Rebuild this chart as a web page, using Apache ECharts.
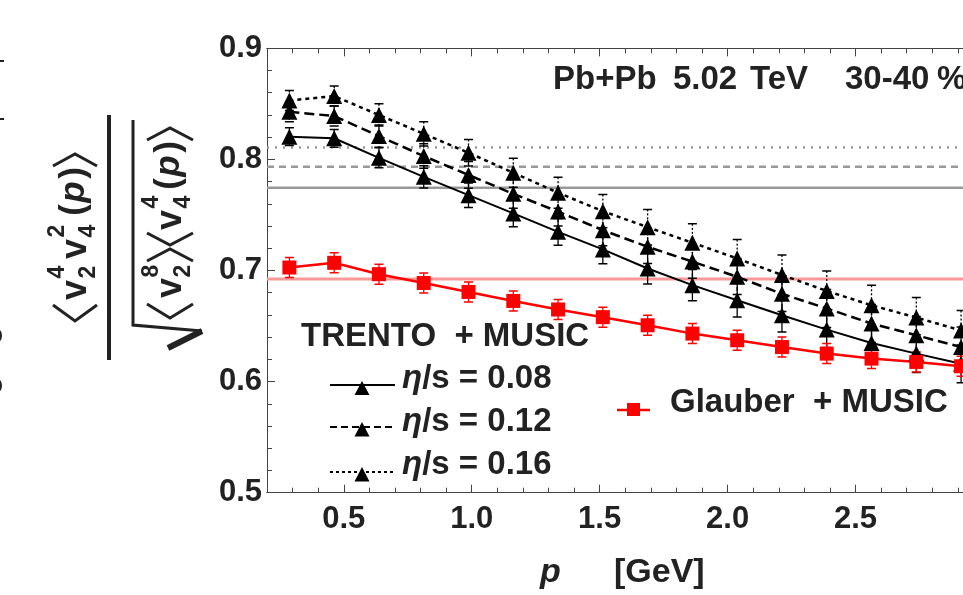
<!DOCTYPE html>
<html><head><meta charset="utf-8">
<script src="https://cdn.jsdelivr.net/npm/echarts@6/dist/echarts.min.js"></script>
<style>html,body{margin:0;padding:0;background:#fff}#c{width:963px;height:595px}</style>
</head><body><div id="c"></div>
<script>
// ---- data ----
const pT = [0.2875, 0.4625, 0.6375, 0.8125, 0.9875, 1.1625, 1.3375, 1.5125, 1.6875, 1.8625, 2.0375, 2.2125, 2.3875, 2.5625, 2.7375, 2.9125];
const eta008 = [0.8204, 0.8190, 0.8014, 0.7843, 0.7678, 0.7514, 0.7348, 0.7190, 0.7018, 0.6868, 0.6732, 0.6597, 0.6468, 0.6348, 0.6252, 0.6160];
const eta012 = [0.8429, 0.8390, 0.8210, 0.8030, 0.7860, 0.7690, 0.7530, 0.7363, 0.7213, 0.7080, 0.6943, 0.6790, 0.6658, 0.6523, 0.6417, 0.6311];
const eta016 = [0.8530, 0.8570, 0.8400, 0.8230, 0.8060, 0.7880, 0.7700, 0.7534, 0.7390, 0.7250, 0.7108, 0.6960, 0.6816, 0.6687, 0.6577, 0.6460];
const glauber = [0.7027, 0.7069, 0.6967, 0.6888, 0.6807, 0.6726, 0.6649, 0.6580, 0.6507, 0.6432, 0.6372, 0.6311, 0.6252, 0.6207, 0.6177, 0.6138];
const err008 = [0.008, 0.008, 0.009, 0.010, 0.011, 0.012, 0.012, 0.013, 0.014, 0.014, 0.015, 0.015, 0.016, 0.016, 0.017, 0.017];
const err012 = [0.009, 0.009, 0.010, 0.011, 0.012, 0.013, 0.013, 0.014, 0.015, 0.015, 0.016, 0.016, 0.017, 0.017, 0.017, 0.018];
const err016 = [0.009, 0.009, 0.010, 0.011, 0.012, 0.013, 0.014, 0.015, 0.016, 0.017, 0.017, 0.018, 0.018, 0.018, 0.018, 0.018];
const errGl = [0.009, 0.009, 0.009, 0.009, 0.009, 0.009, 0.009, 0.009, 0.009, 0.009, 0.009, 0.009, 0.009, 0.009, 0.009, 0.009];
const refTrento = [0.8108, 0.7933, 0.7744]; // eta/s 0.16, 0.12, 0.08
const refGlauber = 0.6924;
const xMajor = [0.5, 1.0, 1.5, 2.0, 2.5];
const xMinor = [0.3, 0.4, 0.6, 0.7, 0.8, 0.9, 1.1, 1.2, 1.3, 1.4, 1.6, 1.7, 1.8, 1.9, 2.1, 2.2, 2.3, 2.4, 2.6, 2.7, 2.8, 2.9];
const xLabels = ['0.5', '1.0', '1.5', '2.0', '2.5'];
const X_MIN = 0.2, X_MAX = 2.92, Y_MIN = 0.5, Y_MAX = 0.9;

// ---- chart ----
const FF = 'Liberation Sans, Arial, sans-serif';
const TXT = '#222';
const AX = '#444';
const chart = echarts.init(document.getElementById('c'));

function xAx(pos, vals, len, labels) {
  return {
    type: 'value', position: pos, min: X_MIN, max: X_MAX,
    axisLine: {show: true, onZero: false, lineStyle: {color: AX, width: 1}},
    axisTick: {show: true, inside: true, length: len, customValues: vals, lineStyle: {color: AX, width: 1}},
    axisLabel: labels ? {show: true, customValues: xMajor, formatter: v => xLabels[xMajor.indexOf(+(+v).toFixed(1))] || '', fontSize: 31, fontWeight: 'bold', fontFamily: FF, color: TXT, margin: 11} : {show: false},
    splitLine: {show: false}
  };
}
function pts(arr) { return pT.map((x, i) => [x, arr[i]]); }
function errData(arr, e) { return pT.map((x, i) => [x, arr[i], e[i]]); }
function lineS(arr, color, dash, symbol, size, width) {
  return {type: 'line', data: pts(arr), symbol: symbol, symbolSize: size, clip: true,
    lineStyle: {color: color, width: width, type: dash}, itemStyle: {color: color, borderWidth: 0},
    z: 5, animation: false, silent: true};
}
function errS(data, color, dash, z) {
  return {type: 'custom', data: data, clip: true, z: z, silent: true, animation: false,
    renderItem: function (params, api) {
      const x = api.value(0), y = api.value(1), e = api.value(2);
      const t = api.coord([x, y + e]), b = api.coord([x, y - e]);
      const cw = 4.5;
      const st = {stroke: color, lineWidth: 1.3, lineDash: dash};
      const cs = {stroke: color, lineWidth: 1.5};
      return {type: 'group', children: [
        {type: 'line', shape: {x1: t[0], y1: t[1], x2: b[0], y2: b[1]}, style: st},
        {type: 'line', shape: {x1: t[0] - cw, y1: t[1], x2: t[0] + cw, y2: t[1]}, style: cs},
        {type: 'line', shape: {x1: b[0] - cw, y1: b[1], x2: b[0] + cw, y2: b[1]}, style: cs}
      ]};
    }};
}
function refS(v, color, dash, w) {
  return {type: 'line', data: [[X_MIN, v], [X_MAX, v]], symbol: 'none', clip: true,
    lineStyle: {color: color, width: w, type: dash}, z: 1, animation: false, silent: true};
}

// rotated text helper (reads bottom-to-top), centered at x,y
function rt(text, x, y, size, italic) {
  return {type: 'text', x: x, y: y, rotation: Math.PI / 2, silent: true,
    style: {text: text, fontSize: size, fontWeight: 'bold', fontStyle: italic ? 'italic' : 'normal', fontFamily: FF, fill: TXT, align: 'center', verticalAlign: 'middle'}};
}
function pl(points, w) {
  return {type: 'polyline', silent: true, shape: {points: points}, style: {stroke: TXT, lineWidth: w, fill: null, lineJoin: 'miter'}};
}
function t(text, x, y, size, opts) {
  return {type: 'text', x: x, y: y, silent: true,
    style: Object.assign({text: text, fontSize: size, fontWeight: 'bold', fontFamily: FF, fill: TXT, align: 'left', verticalAlign: 'middle'}, opts || {})};
}
const italicRich = {i: {fontStyle: 'italic', fontWeight: 'bold', fontSize: 33, fontFamily: FF, fill: TXT}};

const graphics = [
  // title
  t('Pb+Pb', 553, 80, 33), t('5.02', 673, 80, 33), t('TeV', 750, 80, 33), t('30-40', 845, 80, 33), t('%', 937, 80, 33),
  // legend TRENTO
  t('TRENTO  + MUSIC', 301, 337, 33),
  t('{i|\u03b7}/s = 0.08', 402, 379, 33, {rich: italicRich}),
  t('{i|\u03b7}/s = 0.12', 402, 422, 33, {rich: italicRich}),
  t('{i|\u03b7}/s = 0.16', 402, 465, 33, {rich: italicRich}),
  {type: 'line', silent: true, shape: {x1: 330, y1: 385, x2: 395, y2: 385}, style: {stroke: '#000', lineWidth: 2}},
  {type: 'line', silent: true, shape: {x1: 330, y1: 427, x2: 395, y2: 427}, style: {stroke: '#000', lineWidth: 2, lineDash: [7, 4]}},
  {type: 'line', silent: true, shape: {x1: 330, y1: 472, x2: 395, y2: 472}, style: {stroke: '#000', lineWidth: 2, lineDash: [3, 3]}},
  {type: 'polygon', silent: true, shape: {points: [[362, 381], [354.5, 395], [369.5, 395]]}, style: {fill: '#000'}},
  {type: 'polygon', silent: true, shape: {points: [[362, 422], [354.5, 436.5], [369.5, 436.5]]}, style: {fill: '#000'}},
  {type: 'polygon', silent: true, shape: {points: [[362, 467], [354.5, 481.5], [369.5, 481.5]]}, style: {fill: '#000'}},
  // legend Glauber
  {type: 'line', silent: true, shape: {x1: 617, y1: 410, x2: 650, y2: 410}, style: {stroke: '#f00', lineWidth: 2.5}},
  {type: 'rect', silent: true, shape: {x: 627, y: 403, width: 13, height: 13}, style: {fill: '#f00'}},
  t('Glauber  + MUSIC', 670, 403, 33),
  // x axis name
  t('p', 540, 573, 34, {fontStyle: 'italic'}),
  t('[GeV]', 614, 573, 34),
  // left fragments of neighbouring figure
  {type: 'line', silent: true, shape: {x1: 0, y1: 61, x2: 4, y2: 61}, style: {stroke: TXT, lineWidth: 2}},
  {type: 'line', silent: true, shape: {x1: 0, y1: 119, x2: 4, y2: 119}, style: {stroke: TXT, lineWidth: 2}},
  rt('e', -7, 336, 33), rt('e', -7, 386, 33),
  // y-axis title: numerator  <v2^4 v4^2 (p)>
  pl([[53, 305], [75, 321], [97, 305]], 3),
  rt('v', 76, 290, 36), rt('2', 89, 272, 23), rt('4', 58, 272, 23),
  rt('v', 76, 249, 36), rt('4', 89, 231, 23), rt('2', 58, 231, 23),
  rt('(', 74, 210, 35), rt('p', 74, 192, 35, true), rt(')', 74, 173, 35),
  pl([[53, 166], [75, 154], [97, 166]], 3),
  // fraction bar
  {type: 'line', silent: true, shape: {x1: 109, y1: 115, x2: 109, y2: 360}, style: {stroke: TXT, lineWidth: 4}},
  // radical
  pl([[133, 120], [133, 325], [202, 331]], 3),
  pl([[202, 331], [168, 348]], 6),
  // denominator  <v2^8><v4^4(p)>
  pl([[147, 304], [170, 318], [193, 304]], 3),
  rt('v', 171, 288, 36), rt('2', 184, 271, 23), rt('8', 152, 271, 23),
  pl([[147, 261], [170, 249], [193, 261]], 3),
  pl([[147, 233], [170, 245], [193, 233]], 3),
  rt('v', 171, 220, 36), rt('4', 184, 202, 23), rt('4', 152, 202, 23),
  rt('(', 169, 184, 35), rt('p', 169, 166, 35, true), rt(')', 169, 147, 35),
  pl([[147, 140], [170, 128], [193, 140]], 3)
];

chart.setOption({
  animation: false,
  grid: {left: 267, top: 48.3, width: 699, height: 444.4, containLabel: false},
  xAxis: [xAx('bottom', xMajor, 8, true), xAx('bottom', xMinor, 5, false), xAx('top', xMajor, 8, false), xAx('top', xMinor, 5, false)],
  yAxis: {type: 'value', min: Y_MIN, max: Y_MAX, interval: 0.1,
    axisLine: {show: true, lineStyle: {color: AX, width: 1}},
    axisTick: {show: true, inside: true, length: 8, lineStyle: {color: AX}},
    minorTick: {show: true, splitNumber: 5, length: 5, lineStyle: {color: AX}},
    axisLabel: {fontSize: 31, fontWeight: 'bold', fontFamily: FF, color: TXT, margin: 5, formatter: v => (+v).toFixed(1)},
    splitLine: {show: false}},
  series: [
    refS(refTrento[0], '#999', [2, 6], 2.5),
    refS(refTrento[1], '#999', [7, 5], 2.5),
    refS(refTrento[2], '#999', 'solid', 2.5),
    refS(refGlauber, '#ff9999', 'solid', 3),
    errS(errData(eta008, err008), '#000', null, 3),
    errS(errData(eta012, err012), '#000', [4, 3], 3),
    errS(errData(eta016, err016), '#000', [2, 2], 3),
    errS(errData(glauber, errGl), '#f00', null, 3),
    lineS(eta008, '#000', 'solid', 'triangle', [16, 16], 2),
    lineS(eta012, '#000', [10, 5], 'triangle', [16, 16], 2.5),
    lineS(eta016, '#000', [4, 4], 'triangle', [16, 16], 2.5),
    lineS(glauber, '#f00', 'solid', 'rect', 14, 2.5)
  ],
  graphic: graphics
});
</script></body></html>
